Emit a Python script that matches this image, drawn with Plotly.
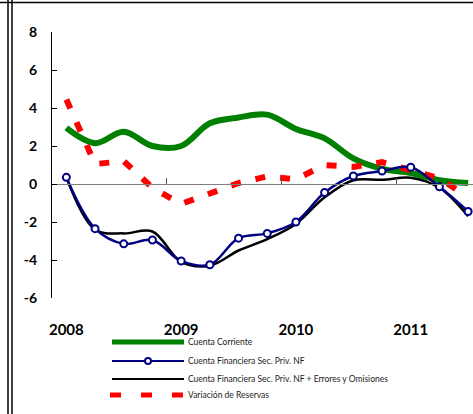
import plotly.graph_objects as go

# Quarterly data 2008Q1 .. 2011Q3
quarters = list(range(15))
year_ticks = [0, 4, 8, 12]
year_labels = ["2008", "2009", "2010", "2011"]
year_boundaries = [3.5, 7.5, 11.5]

cuenta_corriente = [2.95, 2.15, 2.75, 2.0, 2.0, 3.2, 3.5, 3.65, 2.9, 2.4, 1.35, 0.8, 0.58, 0.2, 0.05]
cuenta_financiera = [0.35, -2.35, -3.15, -2.95, -4.05, -4.25, -2.85, -2.6, -2.0, -0.45, 0.42, 0.68, 0.88, -0.15, -1.45]
cuenta_fin_eo = [0.35, -2.4, -2.6, -2.5, -4.1, -4.3, -3.5, -2.9, -2.1, -0.7, 0.2, 0.22, 0.33, -0.2, -1.7]
variacion_reservas = [4.45, 1.05, 1.2, -0.2, -1.05, -0.5, 0.05, 0.4, 0.25, 1.0, 0.9, 1.15, 0.75, 0.3, -0.7]

y_ticks = [-6, -4, -2, 0, 2, 4, 6, 8]
y_labels = ["-6", "-4", "-2", "0", "2", "4", "6", "8"]

names = ["Cuenta Corriente",
         "Cuenta Financiera Sec. Priv. NF",
         "Cuenta Financiera Sec. Priv. NF + Errores y Omisiones",
         "Variación de Reservas"]

GREEN = "#008000"
NAVY = "#000080"
BLACK = "#000000"
RED = "#FF0000"

fig = go.Figure()
fig.add_trace(go.Scatter(x=quarters, y=cuenta_corriente, name=names[0], mode="lines",
                         line=dict(color=GREEN, width=6, shape="spline", smoothing=1.0)))
fig.add_trace(go.Scatter(x=quarters, y=variacion_reservas, name=names[3], mode="lines",
                         line=dict(color=RED, width=6, dash="10px,15px")))
fig.add_trace(go.Scatter(x=quarters, y=cuenta_fin_eo, name=names[2], mode="lines",
                         line=dict(color=BLACK, width=2.5, shape="spline", smoothing=1.0)))
fig.add_trace(go.Scatter(x=quarters, y=cuenta_financiera, name=names[1], mode="lines+markers",
                         line=dict(color=NAVY, width=2.5, shape="spline", smoothing=1.0),
                         marker=dict(symbol="circle", size=7, color="white",
                                     line=dict(color=NAVY, width=2))))
# carrier for the zero-line axis
fig.add_trace(go.Scatter(x=quarters, y=[None] * len(quarters), xaxis="x2", mode="lines",
                         showlegend=False, hoverinfo="skip"))

xr = [-0.5, 14.17]
fig.update_layout(
    width=473, height=414,
    margin=dict(l=52, r=0, t=32, b=116),
    paper_bgcolor="white", plot_bgcolor="white",
    showlegend=False,
    xaxis=dict(range=xr, tickvals=year_ticks, ticktext=year_labels,
               showline=False, showgrid=False, zeroline=False,
               ticks="outside", ticklen=18, tickcolor="rgba(0,0,0,0)",
               tickfont=dict(family="Lato", size=15, color="black", weight="bold")),
    xaxis2=dict(range=xr, overlaying="x", anchor="free", position=6 / 14, side="bottom",
                tickvals=year_boundaries, showticklabels=False,
                showline=True, linecolor="#808080", linewidth=1,
                ticks="inside", ticklen=6, tickcolor="#555555",
                showgrid=False, zeroline=False),
    yaxis=dict(range=[-6, 8], tickvals=y_ticks, ticktext=y_labels,
               showline=True, linecolor="black", linewidth=1,
               ticks="inside", ticklen=5, tickcolor="black",
               showgrid=False, zeroline=False, ticklabelstandoff=11,
               tickfont=dict(family="Lato", size=14, color="black", weight="bold")),
)

# helpers: pixel -> paper coordinates
PL, PW, PB, PH = 52, 421, 298, 266
def px(x):
    return (x - PL) / PW
def py(y):
    return (PB - y) / PH

shapes = []
# frame (double line at left, line on top)
for xv in (8, 12):
    shapes.append(dict(type="line", xref="paper", yref="paper", x0=px(xv), x1=px(xv),
                       y0=py(0), y1=py(414), line=dict(color="black", width=1.5)))
shapes.append(dict(type="line", xref="paper", yref="paper", x0=px(0), x1=px(473),
                   y0=py(2.5), y1=py(2.5), line=dict(color="black", width=1.5)))

# manual legend
leg_y = [342, 361, 379, 395]
shapes.append(dict(type="line", xref="paper", yref="paper", x0=px(112), x1=px(184),
                   y0=py(leg_y[0]), y1=py(leg_y[0]), line=dict(color=GREEN, width=5)))
shapes.append(dict(type="line", xref="paper", yref="paper", x0=px(112), x1=px(184),
                   y0=py(leg_y[1]), y1=py(leg_y[1]), line=dict(color=NAVY, width=2)))
shapes.append(dict(type="circle", xref="paper", yref="paper", x0=px(145), x1=px(151),
                   y0=py(leg_y[1] + 3), y1=py(leg_y[1] - 3),
                   line=dict(color=NAVY, width=2), fillcolor="white"))
shapes.append(dict(type="line", xref="paper", yref="paper", x0=px(112), x1=px(184),
                   y0=py(leg_y[2]), y1=py(leg_y[2]), line=dict(color=BLACK, width=2)))
for x0 in (110, 141, 172):
    shapes.append(dict(type="line", xref="paper", yref="paper", x0=px(x0), x1=px(x0 + 11),
                       y0=py(leg_y[3]), y1=py(leg_y[3]), line=dict(color=RED, width=5)))

annotations = []
for name, yy in zip(names, leg_y):
    annotations.append(dict(text=name, xref="paper", yref="paper", x=px(186), y=py(yy),
                            xanchor="left", yanchor="middle", showarrow=False,
                            font=dict(family="Lato", size=8.5, color="#222222")))

fig.update_layout(shapes=shapes, annotations=annotations)
fig.write_html("out.html", config={"displayModeBar": False},
               post_script="document.body.style.margin='0px';")
